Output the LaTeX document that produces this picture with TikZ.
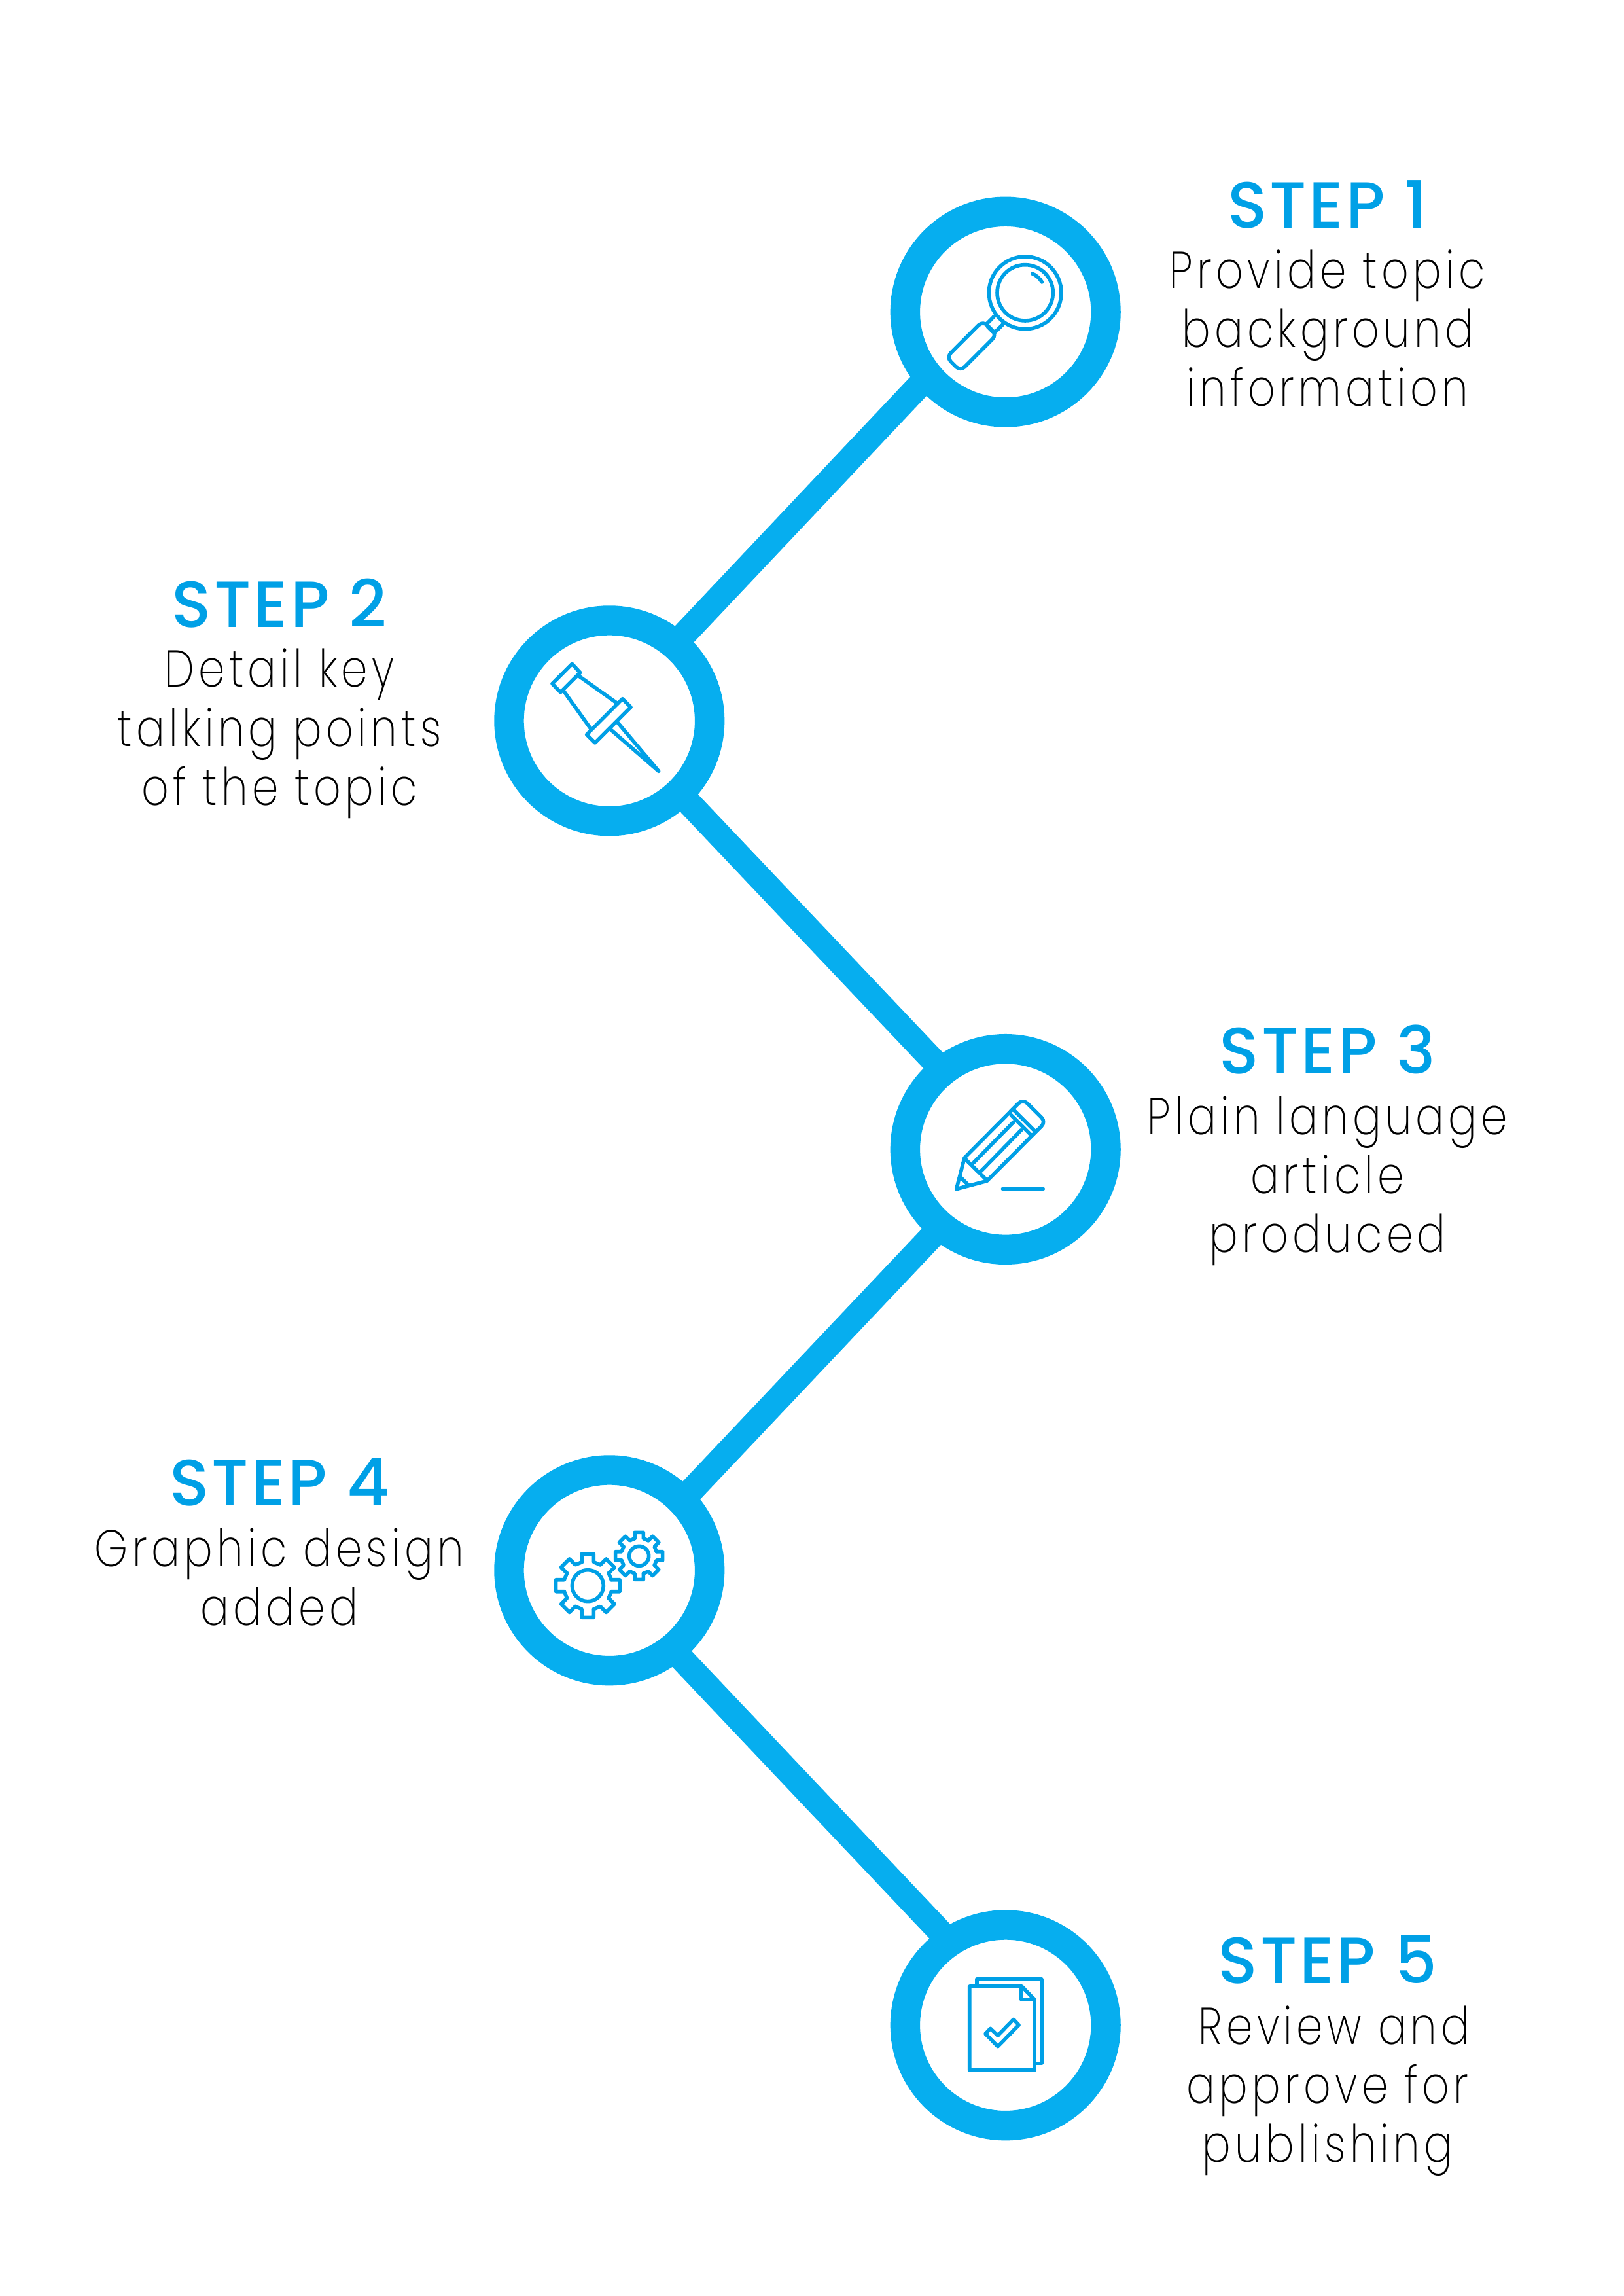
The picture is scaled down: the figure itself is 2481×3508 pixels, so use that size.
\documentclass[tikz,border=0pt]{standalone}
\usepackage{fontspec}
\setmainfont{Poppins}
\newfontfamily\bodyfont[LetterSpace=8,FakeStretch=0.82]{Poppins ExtraLight}
\newfontfamily\headfont[LetterSpace=4]{Poppins Medium}
\usetikzlibrary{calc}
\definecolor{ringblue}{HTML}{06AEEF}
\definecolor{iconblue}{HTML}{00A0E6}
\tikzset{
  ringnode/.style={circle,draw=ringblue,fill=white,line width=10.9pt,minimum size=73.6pt,inner sep=0pt,outer sep=0pt},
  linkline/.style={draw=ringblue,line width=9.12pt},
  icon/.style={x=0.08pt,y=-0.08pt,draw=iconblue,line width=1.35pt,line cap=round,line join=round},
  headtext/.style={text=iconblue,font=\headfont\fontsize{24}{24}\selectfont,anchor=base},
  bodytext/.style={text=black,font=\bodyfont\fontsize{19}{21.6}\selectfont,align=center,anchor=base},
}
\newcommand{\gearshape}[6]{%
  \foreach \a in {0,45,...,315}{
    \begin{scope}[shift={(#1,#2)},rotate=\a]
      \draw (#3,-#5) -- (#4,-#5) -- (#4,#5) -- (#3,#5) -- ({#3*cos(45)+#5*sin(45)},{#3*sin(45)-#5*cos(45)});
    \end{scope}
  }
  \draw (#1,#2) circle (#6);
}
\begin{document}
\begin{tikzpicture}[x=0.24pt,y=-0.24pt]
\useasboundingbox (0,0) rectangle (2481,3508);
\fill[white] (0,0) rectangle (2481,3508);
% circle nodes (positions)
\coordinate (p1) at (1536.7,476.6);
\coordinate (p2) at (931.3,1101.3);
\coordinate (p3) at (1536.7,1756);
\coordinate (p4) at (931.3,2399.3);
\coordinate (p5) at (1536.7,3094.3);
% connectors
\path (p1) node[ringnode,draw=none,fill=none] (a1) {} (p2) node[ringnode,draw=none,fill=none] (a2) {} (p3) node[ringnode,draw=none,fill=none] (a3) {} (p4) node[ringnode,draw=none,fill=none] (a4) {} (p5) node[ringnode,draw=none,fill=none] (a5) {};
\draw[linkline] ([shift={(-105.5,84.5)}]a1.center) -- ([shift={(86.6,-102.6)}]a2.center);
\draw[linkline] ([shift={(92.5,94.7)}]a2.center) -- ([shift={(-82.2,-105.8)}]a3.center);
\draw[linkline] ([shift={(-83.2,101.9)}]a3.center) -- ([shift={(95.6,-90.7)}]a4.center);
\draw[linkline] ([shift={(81.5,104.3)}]a4.center) -- ([shift={(-71.2,-112.6)}]a5.center);
% rings
\node[ringnode] (c1) at (p1) {};
\node[ringnode] (c2) at (p2) {};
\node[ringnode] (c3) at (p3) {};
\node[ringnode] (c4) at (p4) {};
\node[ringnode] (c5) at (p5) {};
% magnifier
\begin{scope}[shift={(1400,330)},icon]
  \draw (500,352) circle (166);
  \draw (500,352) circle (128);
  \draw (533,264) .. controls (552,272) and (566,285) .. (577,303);
  \draw (358,460) -- (322,497);
  \draw (398,497) -- (362,533);
  \draw (328,507) -- (352,531);
  \draw[rounded corners=2.2pt,rotate around={45:(255,596)}] (137,551) rectangle (373,641);
\end{scope}
% pushpin
\begin{scope}[shift={(790,960)},icon]
  \draw (253,163) -- (290,203) -- (200,293) -- (162,254) -- cycle;
  \draw (283,218) -- (462,345);
  \draw (213,285) -- (338,460);
  \draw (484,323) -- (522,361) -- (358,525) -- (320,487) -- cycle;
  \draw (432,466) -- (650,655) -- (462,432);
\end{scope}
% pencil
\begin{scope}[shift={(1400,1620)},icon]
  \draw (222,447) -- (470,197) .. controls (482,186) and (498,186) .. (510,197) -- (575,262) .. controls (587,274) and (587,290) .. (575,302) -- (325,553) -- (185,590) -- cycle;
  \draw (450,230) -- (545,325);
  \draw (435,250) -- (525,340);
  \draw (265,468) -- (448,282);
  \draw (298,508) -- (482,320);
  \draw (228,455) -- (325,550);
  \draw (203,535) -- (240,572);
  \draw (397,589) -- (583,589);
\end{scope}
% gears
\begin{scope}[shift={(790,2270)},icon]
  \gearshape{325}{458}{108}{146}{27}{72}
  \gearshape{560}{322}{80}{108}{20}{45}
\end{scope}
% documents
\begin{scope}[shift={(1400,2970)},icon]
  \draw (278,188) -- (278,162) -- (575,162) -- (575,547) -- (543,547);
  \draw (245,195) -- (485,195) -- (543,255) -- (543,579) -- (245,579) -- cycle;
  \draw (483,195) -- (483,255) -- (543,255);
  \draw (375,470) -- (318,412) -- (341,388) -- (375,420) -- (447,346) -- (471,372) -- cycle;
\end{scope}
% texts
\node[headtext] (h1) at (2029,349) {STEP 1};
\node[bodytext] (b1a) at (2029,441) {Provide topic};
\node[bodytext] (b1b) at (2029,531) {background};
\node[bodytext] (b1c) at (2029,621) {information};
\node[headtext] (h2) at (427,959) {STEP 2};
\node[bodytext] (b2a) at (427,1050) {Detail key};
\node[bodytext] (b2b) at (427,1140) {talking points};
\node[bodytext] (b2c) at (427,1230) {of the topic};
\node[headtext] (h3) at (2029,1640) {STEP 3};
\node[bodytext] (b3a) at (2029,1733) {Plain language};
\node[bodytext] (b3b) at (2029,1823) {article};
\node[bodytext] (b3c) at (2029,1913) {produced};
\node[headtext] (h4) at (427,2300) {STEP 4};
\node[bodytext] (b4a) at (427,2393) {Graphic design};
\node[bodytext] (b4b) at (427,2483) {added};
\node[headtext] (h5) at (2029,3030) {STEP 5};
\node[bodytext] (b5a) at (2039,3123) {Review and};
\node[bodytext] (b5b) at (2029,3213) {approve for};
\node[bodytext] (b5c) at (2029,3303) {publishing};
\end{tikzpicture}
\end{document}
